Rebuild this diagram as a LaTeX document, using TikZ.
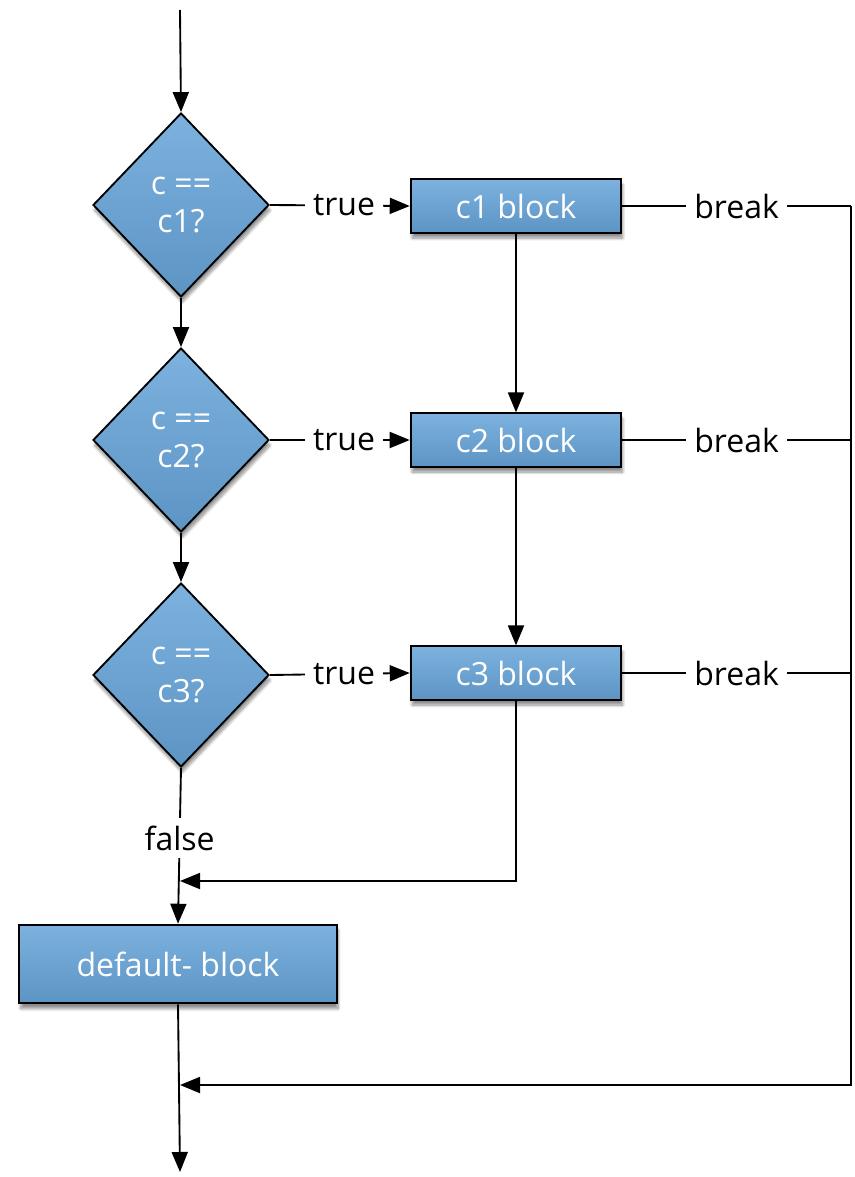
\documentclass[tikz,border=0pt]{standalone}
\usepackage{fontspec}
\setmainfont{Open Sans}
\usetikzlibrary{arrows.meta}
\usetikzlibrary{shapes.geometric}
\usetikzlibrary{shadows.blur}

\definecolor{boxtop}{HTML}{7DB2DF}
\definecolor{boxmid}{HTML}{6098C8}
\definecolor{boxbot}{HTML}{5C94C4}

\tikzset{
  txt/.style={font=\fontsize{24}{28}\selectfont},
  blueshape/.style={draw=black, line width=1.4pt, top color=boxtop, middle color=boxmid, bottom color=boxbot,
    text=white, txt, blur shadow={shadow xshift=1pt, shadow yshift=-4pt, shadow opacity=45, shadow blur steps=10}},
  decision/.style={blueshape, diamond, minimum width=132pt, minimum height=138pt, inner sep=0pt, align=center},
  block/.style={blueshape, rectangle, minimum width=158pt, minimum height=40pt, inner sep=0pt},
  conn/.style={line width=1.4pt},
  flow/.style={conn, -{Triangle[length=15pt, width=12pt]}},
  lbl/.style={fill=white, inner sep=6pt, txt}
}

\begin{document}
\begin{tikzpicture}[x=0.75pt, y=-0.75pt]

\useasboundingbox (0,0) rectangle (854,1177);

%entry and exit of the switch
\coordinate (entry) at (180,10);
\coordinate (exit) at (180,1172);

%tests on the left
\node[decision] (d1) at (181,205) {c ==\\c1?};
\node[decision] (d2) at (181,440) {c ==\\c2?};
\node[decision] (d3) at (181,675) {c ==\\c3?};

%case blocks on the right
\node[block] (b1) at (516,206) {c1 block};
\node[block] (b2) at (516,440) {c2 block};
\node[block] (b3) at (516,673) {c3 block};

%default block
\node[block, minimum width=238pt, minimum height=59pt] (dflt) at (178,964) {default- block};

%points on the break line
\coordinate (r1) at (851,206);
\coordinate (r2) at (851,440);
\coordinate (r3) at (851,673);
\coordinate (r4) at (851,1085);
\coordinate (join) at (180,1085);
\coordinate (merge) at (180,881);

% down the tests
\draw[flow] (entry) -- (d1.north);
\draw[flow] (d1.south) -- (d2.north);
\draw[flow] (d2.south) -- (d3.north);
\draw[flow] (d3.south) -- node[lbl, pos=0.45] {false} (dflt.north);

% true branches
\draw[flow] (d1.east) -- node[lbl, pos=0.53] {true} (b1.west);
\draw[flow] (d2.east) -- node[lbl, pos=0.53] {true} (b2.west);
\draw[flow] (d3.east) -- node[lbl, pos=0.53] {true} (b3.west);

% fall through
\draw[flow] (b1.south) -- (b2.north);
\draw[flow] (b2.south) -- (b3.north);
\draw[flow] (b3.south) |- (merge);

% breaks
\draw[conn] (b1.east) -- node[lbl] {break} (r1);
\draw[conn] (b2.east) -- node[lbl] {break} (r2);
\draw[conn] (b3.east) -- node[lbl] {break} (r3);
\draw[flow] (r1) -- (r4) -- (join);

\draw[flow] (dflt.south) -- (exit);

\end{tikzpicture}
\end{document}
